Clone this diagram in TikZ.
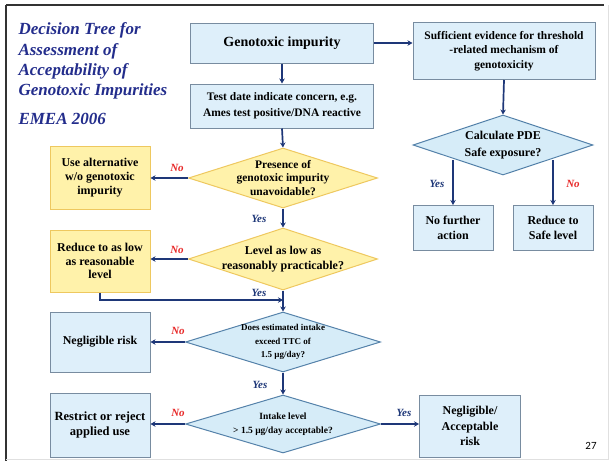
\documentclass[tikz,border=0pt]{standalone}
\usepackage{fontspec}
\setmainfont{Liberation Serif}
\newfontfamily\numfont{Carlito}
\usetikzlibrary{shapes.geometric,arrows.meta,calc}
\definecolor{navy}{RGB}{30,55,120}
\definecolor{titleblue}{RGB}{35,45,140}
\definecolor{boxfill}{RGB}{222,239,250}
\definecolor{boxdraw}{RGB}{120,140,160}
\definecolor{yelfill}{RGB}{255,242,170}
\definecolor{yeldraw}{RGB}{238,200,95}
\definecolor{difill}{RGB}{214,236,248}
\definecolor{didraw}{RGB}{85,130,170}
\definecolor{nored}{RGB}{232,40,40}
\tikzset{
  bluebox/.style={draw=boxdraw, fill=boxfill, line width=1pt, align=center, font=\bfseries\fontsize{12}{14.5}\selectfont, inner sep=0pt},
  yelbox/.style={draw=yeldraw, fill=yelfill, line width=1pt, align=center, font=\bfseries\fontsize{12}{14}\selectfont, inner sep=0pt},
  bluedia/.style={diamond, draw=didraw, fill=difill, line width=1pt, inner sep=0pt},
  yeldia/.style={diamond, draw=yeldraw, fill=yelfill, line width=1pt, inner sep=0pt},
  ditext/.style={align=center, inner sep=0pt, font=\bfseries\fontsize{12}{14}\selectfont},
  arr/.style={draw=navy, line width=1.7pt, -{Stealth[length=5pt,width=5.5pt]}},
  yeslab/.style={text=navy, font=\bfseries\itshape\fontsize{11}{12}\selectfont},
  nolab/.style={text=nored, font=\bfseries\itshape\fontsize{11}{12}\selectfont},
  ttl/.style={text=titleblue, font=\bfseries\itshape\fontsize{17}{20}\selectfont, anchor=west}
}
\begin{document}
\begin{tikzpicture}[x=1pt,y=-1pt]
\useasboundingbox (0,0) rectangle (613,461);
\fill[white] (0,0) rectangle (613,461);
% frame
\draw[black!80, line width=2pt] (6,5) -- (604,5);
\draw[black!80, line width=2pt] (6,5) -- (6,461);
\draw[black!12, line width=0.8pt] (6,459) -- (608,459) -- (608,5);
% title
\node[ttl] (t1) at (15,30) {Decision Tree for};
\node[ttl] (t2) at (15,51) {Assessment of};
\node[ttl] (t3) at (15,71) {Acceptability of};
\node[ttl] (t4) at (15,91) {Genotoxic Impurities};
\node[ttl] (t5) at (15,119) {EMEA 2006};
% boxes
\node[bluebox, minimum width=183pt, minimum height=40pt, font=\bfseries\fontsize{14}{16}\selectfont] (gi) at (282,43) {Genotoxic impurity};
\node[bluebox, minimum width=183pt, minimum height=44pt, font=\bfseries\fontsize{11.5}{16}\selectfont] (td) at (282,106) {Test date indicate concern, e.g.\\Ames test positive/DNA reactive};
\node[bluebox, minimum width=182pt, minimum height=57pt, font=\bfseries\fontsize{11.5}{14.5}\selectfont] (se) at (504,51) {Sufficient evidence for threshold\\-related mechanism of\\genotoxicity};
\node[bluebox, minimum width=80pt, minimum height=45pt] (nf) at (453,228) {No further\\action};
\node[bluebox, minimum width=80pt, minimum height=45pt] (rs) at (553,228) {Reduce to\\Safe level};
\node[yelbox, minimum width=100pt, minimum height=63pt] (alt) at (100,178) {Use alternative\\w/o genotoxic\\impurity};
\node[yelbox, minimum width=100pt, minimum height=62pt, font=\bfseries\fontsize{12}{13.5}\selectfont] (red) at (100,261) {Reduce to as low\\as reasonable\\level};
\node[bluebox, minimum width=100pt, minimum height=60pt] (neg) at (100,342) {Negligible risk};
\node[bluebox, minimum width=100pt, minimum height=64pt, font=\bfseries\fontsize{12.5}{15}\selectfont] (rr) at (100,425) {Restrict or reject\\applied use};
\node[bluebox, minimum width=101pt, minimum height=62pt, font=\bfseries\fontsize{12}{15.5}\selectfont] (acc) at (470,426) {Negligible/\\Acceptable\\risk};
% diamonds
\node[bluedia, minimum width=180pt, minimum height=60pt] (pde) at (503,145) {};
\node[ditext, font=\bfseries\fontsize{12}{17}\selectfont] (pdet) at (pde) {Calculate PDE\\Safe exposure?};
\node[yeldia, minimum width=189pt, minimum height=60pt] (pr) at (283,178) {};
\node[ditext, font=\bfseries\fontsize{11.5}{13.5}\selectfont] (prt) at (pr) {Presence of\\genotoxic impurity\\unavoidable?};
\node[yeldia, minimum width=189pt, minimum height=62pt] (lv) at (283,259) {};
\node[ditext, font=\bfseries\fontsize{12}{15}\selectfont] (lvt) at (lv) {Level as low as\\reasonably practicable?};
\node[bluedia, minimum width=195pt, minimum height=60pt] (ttc) at (283,342) {};
\node[ditext, font=\bfseries\fontsize{9}{13.5}\selectfont] (ttct) at (ttc) {Does estimated intake\\exceed TTC of\\1.5 \textmu g/day?};
\node[bluedia, minimum width=195pt, minimum height=58pt] (il) at (283,424) {};
\node[ditext, font=\bfseries\fontsize{9.5}{14}\selectfont] (ilt) at (il) {Intake level\\> 1.5 \textmu g/day acceptable?};
\node[font=\numfont\fontsize{11}{12}\selectfont] (pg) at (591,446) {27};
% connectors
\draw[arr] (gi.east) -- (gi.east -| se.west);
\draw[arr] (gi.south) -- (td.north);
\draw[arr] (se.south) -- (pde.north);
\draw[arr] (pde.south west -| nf.north) -- (nf.north);
\draw[arr] (pde.south east -| rs.north) -- (rs.north);
\draw[arr] (td.south) -- (pr.north);
\draw[arr] (pr.west) -- (alt.east);
\draw[arr] (pr.south) -- (lv.north);
\draw[arr] (lv.west) -- (lv.west -| red.east);
\coordinate (j) at (283,300);
\draw[arr] (red.south) |- (j);
\draw[arr] (lv.south) -- (ttc.north);
\draw[arr] (ttc.west) -- (neg.east);
\draw[arr] (ttc.south) -- (il.north);
\draw[arr] (il.west) -- (il.west -| rr.east);
\draw[arr] (il.east) -- (il.east -| acc.west);
% labels
\node[yeslab] (y1) at (437,184) {Yes};
\node[nolab] (n1) at (573,184) {No};
\node[nolab] (n2) at (177,168) {No};
\node[yeslab] (y2) at (259,219) {Yes};
\node[nolab] (n3) at (177,250) {No};
\node[yeslab] (y3) at (259,293) {Yes};
\node[nolab] (n4) at (178,331) {No};
\node[yeslab] (y4) at (260,385) {Yes};
\node[nolab] (n5) at (178,413) {No};
\node[yeslab] (y5) at (404,413) {Yes};
\end{tikzpicture}
\end{document}
